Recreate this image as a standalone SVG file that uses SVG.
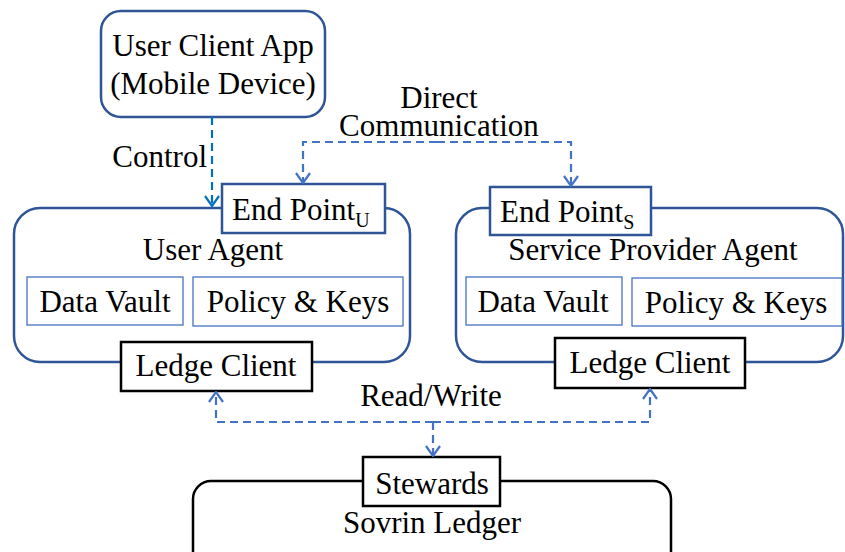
<svg xmlns="http://www.w3.org/2000/svg" width="845" height="552" viewBox="0 0 845 552" font-family="'Liberation Serif', 'DejaVu Serif', serif">
  <style>
    text { font-family: "Liberation Serif", "DejaVu Serif", serif; font-size: 31px; fill: #000; }
    .mid { text-anchor: middle; }
    .sub { font-size: 20px; }
    .agent { fill: none; stroke: #2F5597; stroke-width: 2.5; }
    .port { fill: #fff; stroke: #2F5597; stroke-width: 2.5; }
    .store { fill: #fff; stroke: #4472C4; stroke-width: 1.3; }
    .ledger { fill: #fff; stroke: #000; stroke-width: 2.5; }
    .link { fill: none; stroke: #4472C4; stroke-width: 2.2; stroke-dasharray: 8 5; }
    .ctrl { fill: none; stroke: #0070C0; stroke-width: 2.2; stroke-dasharray: 8 5; }
  </style>
  <defs>
    <marker id="head" viewBox="0 0 12 16" refX="11" refY="8" markerWidth="12" markerHeight="16" markerUnits="userSpaceOnUse" orient="auto">
      <path d="M1,1 L11,8 L1,15" fill="none" stroke="#4472C4" stroke-width="2.2" stroke-dasharray="none"/>
    </marker>
    <marker id="head-ctrl" viewBox="0 0 12 16" refX="11" refY="8" markerWidth="12" markerHeight="16" markerUnits="userSpaceOnUse" orient="auto">
      <path d="M1,1 L11,8 L1,15" fill="none" stroke="#0070C0" stroke-width="2.2" stroke-dasharray="none"/>
    </marker>
  </defs>

  <!-- mobile client -->
  <g id="user-client-app">
    <rect x="101" y="11" width="224" height="106" rx="20" class="port"/>
    <text x="213" y="56" class="mid">User Client App</text>
    <text x="213" y="94" class="mid">(Mobile Device)</text>
  </g>

  <!-- user agent -->
  <g id="user-agent">
    <rect x="14" y="208" width="396" height="154" rx="26" class="agent"/>
    <text x="213" y="260" class="mid">User Agent</text>
  </g>
  <g id="user-data-vault">
    <rect x="27" y="277" width="156" height="48" class="store"/>
    <text x="105" y="312" class="mid">Data Vault</text>
  </g>
  <g id="user-policy-keys">
    <rect x="193" y="277" width="210" height="49" class="store"/>
    <text x="298" y="312" class="mid">Policy &amp; Keys</text>
  </g>
  <g id="end-point-u">
    <rect x="222" y="184" width="163" height="49" class="port"/>
    <text x="232" y="220">End Point<tspan class="sub" dy="7">U</tspan></text>
  </g>
  <g id="user-ledge-client">
    <rect x="121" y="342" width="191" height="49" class="ledger"/>
    <text x="216" y="376" class="mid">Ledge Client</text>
  </g>

  <!-- service provider agent -->
  <g id="service-provider-agent">
    <rect x="456" y="208" width="387" height="154" rx="26" class="agent"/>
    <text x="653" y="260" class="mid">Service Provider Agent</text>
  </g>
  <g id="sp-data-vault">
    <rect x="466" y="277" width="156" height="48" class="store"/>
    <text x="543" y="312" class="mid">Data Vault</text>
  </g>
  <g id="sp-policy-keys">
    <rect x="632" y="278" width="210" height="48" class="store"/>
    <text x="736" y="313" class="mid">Policy &amp; Keys</text>
  </g>
  <g id="end-point-s">
    <rect x="490" y="187" width="161" height="48" class="port"/>
    <text x="500" y="222">End Point<tspan class="sub" dy="7">S</tspan></text>
  </g>
  <g id="sp-ledge-client">
    <rect x="555" y="338" width="190" height="50" class="ledger"/>
    <text x="650" y="373" class="mid">Ledge Client</text>
  </g>

  <!-- ledger -->
  <g id="sovrin-ledger">
    <rect x="193" y="481" width="478" height="95" rx="18" class="ledger"/>
    <text x="432" y="533" class="mid">Sovrin Ledger</text>
  </g>
  <g id="stewards">
    <rect x="363" y="457" width="137" height="49" class="ledger"/>
    <text x="432" y="494" class="mid">Stewards</text>
  </g>

  <!-- connectors -->
  <g id="connectors">
    <path d="M212,117 V206" class="ctrl" marker-end="url(#head-ctrl)"/>
    <text x="207" y="167" text-anchor="end">Control</text>

    <path d="M437,142 H303 V183" class="link" marker-end="url(#head)"/>
    <path d="M437,142 H571 V186" class="link" marker-end="url(#head)"/>
    <text x="439" y="108" class="mid">Direct</text>
    <text x="439" y="136" class="mid">Communication</text>

    <path d="M433,422 H216 V392" class="link" marker-end="url(#head)"/>
    <path d="M433,422 H650 V389" class="link" marker-end="url(#head)"/>
    <path d="M433,422 V456" class="link" marker-end="url(#head)"/>
    <text x="431" y="406" class="mid">Read/Write</text>
  </g>
</svg>
